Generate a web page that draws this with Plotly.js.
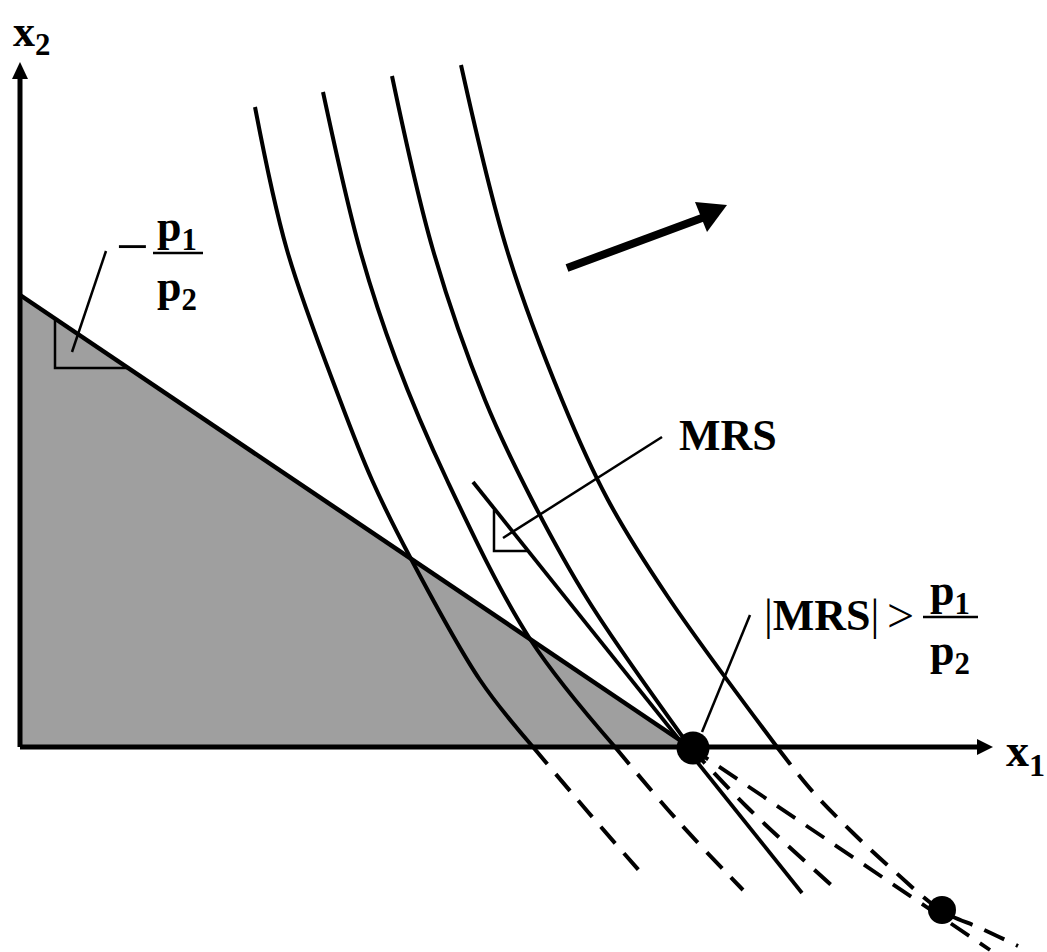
<!DOCTYPE html>
<html>
<head>
<meta charset="utf-8">
<script src="https://cdn.plot.ly/plotly-3.0.1.min.js"></script>
<style>html,body{margin:0;padding:0;background:#fff;}#chart{width:1047px;height:952px;}</style>
</head>
<body>
<div id="chart"></div>
<script>
// ---- diagram data (units: x1 to the right, x2 upward, origin at axes corner) ----
const budgetX = [0, 670];
const budgetY = [452, 0];
const budgetExtX = [670, 970];
const budgetExtY = [0, -203];

const ic1X = [235, 267, 320, 352, 390, 460, 513];
const ic1Y = [640, 497, 347, 267, 190, 67, 0];
const ic1dX = [513, 568, 623];
const ic1dY = [0, -65, -128];

const ic2X = [303, 340, 376, 427, 510, 595];
const ic2Y = [655, 497, 387, 267, 108, 0];
const ic2dX = [595, 657, 723];
const ic2dY = [0, -73, -143];

const ic3X = [372, 413, 465, 512, 568, 670];
const ic3Y = [671, 497, 347, 247, 147, 0];
const ic3dX = [670, 727, 820];
const ic3dY = [0, -60, -146];

const ic4X = [441, 487, 542, 588, 648, 757];
const ic4Y = [682, 497, 347, 247, 150, 0];
const ic4dX = [757, 793, 833, 873, 922, 960, 998];
const ic4dY = [0, -45, -86, -123, -164, -181, -199];

const mrsLineX = [453, 782];
const mrsLineY = [265, -146];

const cornerX = [673];
const cornerY = [-1];
const tangentX = [922];
const tangentY = [-163];

const budgetTriX = [35, 35, 108];
const budgetTriY = [428, 379, 379];
const mrsTriX = [474, 474, 507];
const mrsTriY = [237, 196, 196];

const leadSlopeX = [86, 52];
const leadSlopeY = [496, 395];
const leadMrsX = [642, 483];
const leadMrsY = [310, 209];
const leadIneqX = [730, 682];
const leadIneqY = [132, 15];

const arrowShaftX = [547, 690];
const arrowShaftY = [479, 532];
const arrowHeadX = [707, 675, 687, 707];
const arrowHeadY = [542, 545, 515, 542];

const yAxisX = [0, 0];
const yAxisY = [0, 672];
const yHeadX = [0, -8, 8, 0];
const yHeadY = [685, 668, 668, 685];
const xAxisX = [0, 960];
const xAxisY = [0, 0];
const xHeadX = [973, 957, 957, 973];
const xHeadY = [0, 8, -8, 0];

const fracBarLeftX = [133, 183];
const fracBarLeftY = [494, 494];
const fracBarRightX = [903, 958];
const fracBarRightY = [130, 130];

// ---- traces ----
const K = '#000000';
const DASH = '22px,13px';
function line(x, y, w, dash, shape) {
  return {x, y, type:'scatter', mode:'lines', hoverinfo:'skip', showlegend:false,
    line:{color:K, width:w, dash:dash || 'solid', shape:shape || 'linear', smoothing:1}};
}
function filled(x, y, color) {
  return {x, y, type:'scatter', mode:'lines', fill:'toself', fillcolor:color, hoverinfo:'skip',
    showlegend:false, line:{color:color, width:0}};
}

const traces = [
  filled([0].concat(budgetX).concat([0]), [0].concat(budgetY).concat([0]), '#9f9f9f'),
  line(budgetX, budgetY, 4.5),
  line(budgetExtX, budgetExtY, 3.8, DASH),
  line(ic1X, ic1Y, 4, null, 'spline'),
  line(ic1dX, ic1dY, 4, DASH, 'spline'),
  line(ic2X, ic2Y, 4, null, 'spline'),
  line(ic2dX, ic2dY, 4, DASH, 'spline'),
  line(ic3X, ic3Y, 4, null, 'spline'),
  line(ic3dX, ic3dY, 4, DASH, 'spline'),
  line(ic4X, ic4Y, 4, null, 'spline'),
  line(ic4dX, ic4dY, 4, DASH, 'spline'),
  line(mrsLineX, mrsLineY, 3.8),
  line(budgetTriX, budgetTriY, 2.5),
  line(mrsTriX, mrsTriY, 2.5),
  line(leadSlopeX, leadSlopeY, 2.5),
  line(leadMrsX, leadMrsY, 2.5),
  line(leadIneqX, leadIneqY, 2.5),
  line(arrowShaftX, arrowShaftY, 8),
  filled(arrowHeadX, arrowHeadY, K),
  line(yAxisX, yAxisY, 5),
  filled(yHeadX, yHeadY, K),
  line(xAxisX, xAxisY, 5),
  filled(xHeadX, xHeadY, K),
  line(fracBarLeftX, fracBarLeftY, 2.5),
  line(fracBarRightX, fracBarRightY, 2.5),
  {x: cornerX, y: cornerY, type:'scatter', mode:'markers', hoverinfo:'skip', showlegend:false,
   marker:{color:K, size:33, line:{width:0}}},
  {x: tangentX, y: tangentY, type:'scatter', mode:'markers', hoverinfo:'skip', showlegend:false,
   marker:{color:K, size:28, line:{width:0}}}
];

const SERIF = 'Liberation Serif, Times New Roman, serif';
function label(text, x, y, size, weight) {
  return {x, y, xref:'x', yref:'y', text, showarrow:false, xanchor:'center', yanchor:'middle',
    font:{family:SERIF, size:size, color:K, weight:weight || 'bold'}};
}

const layout = {
  width:1047, height:952,
  margin:{l:0, r:0, t:0, b:0, pad:0},
  paper_bgcolor:'#ffffff', plot_bgcolor:'#ffffff',
  showlegend:false,
  xaxis:{range:[-20, 1027], visible:false, showgrid:false, zeroline:false, fixedrange:true},
  yaxis:{range:[-205, 747], visible:false, showgrid:false, zeroline:false, fixedrange:true},
  annotations:[
    label('x<sub>2</sub>', 11, 713, 44),
    label('x<sub>1</sub>', 1005, -7, 46),
    label('\u2212', 112, 501, 58, 'normal'),
    label('p<sub>1</sub>', 157, 518, 44),
    label('p<sub>2</sub>', 157, 458, 44),
    label('MRS', 708, 312, 44),
    label('|<b>MRS</b>|', 801, 132, 44, 'normal'),
    label('>', 880, 132, 48, 'normal'),
    label('p<sub>1</sub>', 930, 154, 44),
    label('p<sub>2</sub>', 930, 94, 44)
  ]
};

Plotly.newPlot('chart', traces, layout, {staticPlot:true, displayModeBar:false});
</script>
</body>
</html>
